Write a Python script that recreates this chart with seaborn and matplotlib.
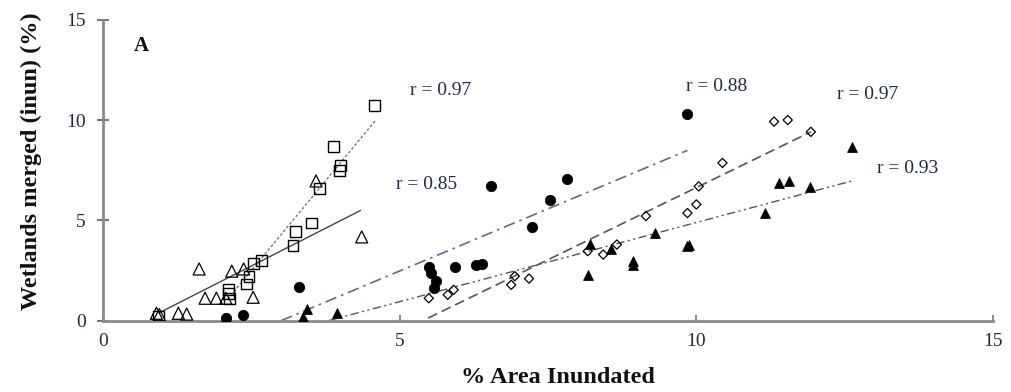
import numpy as np
import matplotlib
matplotlib.use("Agg")
import matplotlib.pyplot as plt
import seaborn as sns

# %% data
squares_x = [4.58, 3.88, 4.00, 3.99, 3.65, 3.51, 3.25, 3.20, 2.67, 2.53, 2.46, 2.42, 2.11, 2.11, 2.13, 0.93]
squares_y = [10.73, 8.70, 7.74, 7.50, 6.60, 4.87, 4.45, 3.74, 3.00, 2.87, 2.20, 1.83, 1.57, 1.37, 1.12, 0.23]

open_tri_x = [3.59, 4.36, 1.62, 2.17, 2.37, 2.53, 1.72, 1.91, 2.07, 1.27, 1.41, 0.90, 0.95]
open_tri_y = [6.97, 4.18, 2.58, 2.47, 2.58, 1.17, 1.12, 1.12, 1.12, 0.37, 0.33, 0.37, 0.30]

circles_x = [2.08, 2.36, 3.30, 5.50, 5.53, 5.62, 5.57, 5.93, 6.28, 6.38, 7.23, 7.54, 6.54, 7.82, 9.85]
circles_y = [0.15, 0.28, 1.68, 2.70, 2.40, 1.96, 1.63, 2.70, 2.77, 2.84, 4.67, 6.01, 6.74, 7.05, 10.33]

diamonds_x = [5.49, 5.81, 5.91, 6.88, 6.94, 7.18, 8.17, 8.43, 8.66, 9.15, 9.85, 10.00, 10.04, 10.44, 11.31, 11.54, 11.93]
diamonds_y = [1.12, 1.29, 1.54, 1.79, 2.22, 2.10, 3.47, 3.30, 3.80, 5.22, 5.37, 5.80, 6.70, 7.87, 9.93, 10.01, 9.42]

filled_tri_x = [3.37, 3.44, 3.94, 8.17, 8.20, 8.56, 8.93, 8.93, 9.31, 9.85, 9.88, 11.15, 11.39, 11.57, 11.92, 12.63]
filled_tri_y = [0.17, 0.57, 0.37, 2.30, 3.85, 3.58, 2.97, 2.80, 4.35, 3.72, 3.80, 5.38, 6.88, 6.97, 6.68, 8.67]

# trend lines: squares, open triangles, circles, diamonds, filled triangles
fit_x0 = [2.10, 0.95, 3.00, 5.48, 3.80]
fit_x1 = [4.60, 4.34, 9.85, 11.93, 12.63]
fit_slope = [3.58, 1.504, 1.24, 1.44, 0.79]
fit_intercept = [-6.45, -1.03, -3.72, -7.76, -3.00]
fit_r = ["r = 0.97", "r = 0.85", "r = 0.88", "r = 0.97", "r = 0.93"]

# %% plot
sns.set_style("white")
plt.rcParams["font.family"] = ["Liberation Serif", "DejaVu Serif"]

fig = plt.figure(figsize=(10.11, 3.92), dpi=100)
ax = fig.add_axes([0.1019, 0.1819, 0.8803, 0.7671])

line_styles = [
    dict(color="#777777", lw=1.0, linestyle=(0, (2, 1.5))),
    dict(color="#444444", lw=1.0, linestyle="-"),
    dict(color="#5d6b8c", lw=1.2, linestyle=(0, (7, 3, 1.5, 3))),
    dict(color="#555555", lw=1.2, linestyle=(0, (6, 3))),
    dict(color="#555555", lw=1.0, linestyle=(0, (6, 2.5, 1.5, 2.5, 1.5, 2.5))),
]
for i in range(5):
    xs = np.array([fit_x0[i], fit_x1[i]])
    ax.plot(xs, fit_slope[i] * xs + fit_intercept[i], **line_styles[i], zorder=1)

sns.scatterplot(x=squares_x, y=squares_y, marker="s", s=60, fc="none", ec="black", linewidth=1.0, ax=ax, zorder=3)
sns.scatterplot(x=open_tri_x, y=open_tri_y, marker="^", s=75, fc="none", ec="black", linewidth=0.9, ax=ax, zorder=3)
sns.scatterplot(x=circles_x, y=circles_y, marker="o", s=55, color="black", ec="black", ax=ax, zorder=3)
sns.scatterplot(x=diamonds_x, y=diamonds_y, marker="D", s=22, fc="none", ec="black", linewidth=0.9, ax=ax, zorder=3)
sns.scatterplot(x=filled_tri_x, y=filled_tri_y, marker="^", s=50, color="black", ec="black", ax=ax, zorder=3)

text_color = "#1f2a44"
label_pos = [(5.17, 11.46), (4.93, 6.81), (9.83, 11.66), (12.37, 11.26), (13.05, 7.61)]
for (tx, ty), lab in zip(label_pos, fit_r):
    ax.text(tx, ty, lab, fontsize=14, color=text_color, ha="left", va="center")

ax.text(0.64, 13.7, "A", fontsize=15, fontweight="bold", color="#111111", ha="center", va="center")

ax.set_xlim(0, 15)
ax.set_ylim(0, 15)
ax.set_xticks([0, 5, 10, 15])
ax.set_yticks([0, 5, 10, 15])

for side in ["top", "right"]:
    ax.spines[side].set_visible(False)
for side in ["left", "bottom"]:
    ax.spines[side].set_color("#8a8a8a")
    ax.spines[side].set_linewidth(2.0)

ax.tick_params(axis="y", direction="inout", length=9, width=1.5, color="#777777",
               labelsize=14, labelcolor="#222a3a", pad=8)
ax.tick_params(axis="x", direction="in", length=4, width=1.2, color="#777777",
               labelsize=14, labelcolor="#222a3a", pad=9)
ax.tick_params(axis="x", which="both", bottom=True)
ax.tick_params(axis="y", which="both", left=True)

ax.set_xlabel("% Area Inundated", fontsize=17.5, fontweight="bold", color="#111111")
ax.set_ylabel("Wetlands merged (inun) (%)", fontsize=17.5, fontweight="bold", color="#111111")
ax.xaxis.label.set_verticalalignment("center")
ax.yaxis.label.set_verticalalignment("center")
ax.xaxis.set_label_coords(0.511, -0.19)
ax.yaxis.set_label_coords(-0.08, 0.53)

fig.savefig("out.png", dpi=100)
